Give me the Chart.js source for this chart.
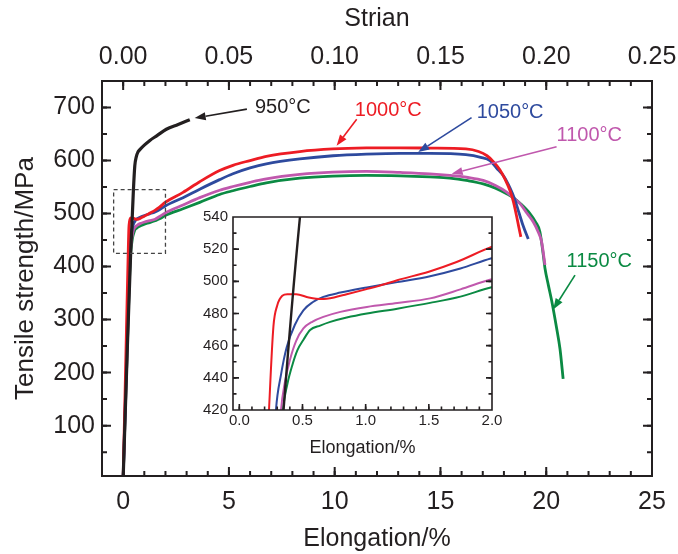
<!DOCTYPE html>
<html>
<head>
<meta charset="utf-8">
<script src="https://cdn.jsdelivr.net/npm/chart.js@4.4.1/dist/chart.umd.min.js"></script>
<style>
body{margin:0;background:#fff;}
#wrap{position:relative;width:678px;height:554px;}
#mainCanvas{position:absolute;left:0;top:0;}
#insetCanvas{position:absolute;left:180px;top:195px;}
</style>
</head>
<body>
<div id="wrap">
<canvas id="mainCanvas" width="678" height="554"></canvas>
<canvas id="insetCanvas" width="330" height="270"></canvas>
</div>
<script>
//curves: elongation (%) and tensile strength (MPa)
var x950 = [0, 0.2, 0.35, 0.48, 0.55, 0.62, 0.7, 0.8, 1.0, 1.25, 1.6, 2.04, 2.6, 3.15];
var y950 = [0, 250, 420, 540, 590, 607, 616, 621, 629, 637.5, 647, 659, 668, 677];

var x1000 = [0, 0.12, 0.235, 0.27, 0.3, 0.34, 0.38, 0.45, 0.55, 0.65, 0.75, 0.85, 1.0, 1.1, 1.25, 1.5, 1.72, 2.0, 2.83, 3.62, 4.56, 5.19, 6.0, 6.77, 8.35, 9.92, 11.5, 13.1, 14.5, 16.2, 16.8, 17.2, 17.5, 17.8, 18.05, 18.3, 18.45, 18.6, 18.7, 18.8];
var y1000 = [0, 215, 420, 472, 485, 491, 492, 492, 490, 489, 490, 492, 495, 497, 500.7, 506, 512, 521.5, 540, 560, 581, 591, 600, 608, 617, 621.8, 623.7, 624, 623.5, 621.8, 617, 609, 598, 583, 565, 542, 522, 495, 475, 456];

var x1050 = [0, 0.15, 0.29, 0.33, 0.375, 0.44, 0.507, 0.58, 0.665, 0.8, 1.01, 1.25, 1.51, 1.75, 1.99, 2.83, 3.62, 4.56, 5.19, 6.0, 6.77, 8.35, 9.92, 11.5, 13.1, 14.5, 16.2, 16.9, 17.34, 17.65, 18.0, 18.28, 18.5, 18.7, 18.9, 19.15];
var y1050 = [0, 215, 420, 442, 459, 473, 482, 487, 490.3, 493, 496.2, 499.5, 503.2, 508, 514.2, 530, 546, 564, 575, 586, 593.7, 603, 609, 612, 613.5, 613.5, 611, 606, 600, 586, 570, 549, 528, 503, 478, 452];

var x1100 = [0, 0.17, 0.33, 0.36, 0.4, 0.45, 0.507, 0.58, 0.665, 0.8, 1.01, 1.25, 1.51, 1.75, 1.99, 2.83, 3.62, 4.56, 5.19, 6.0, 6.77, 8.35, 9.92, 11.5, 13.1, 14.5, 15.44, 16.3, 17.02, 17.6, 18.13, 18.5, 18.76, 19.1, 19.39, 19.6, 19.78, 19.94];
var y1100 = [0, 215, 420, 437, 451, 463, 470.7, 475, 477.9, 481, 484.1, 486.5, 489.4, 495, 501.1, 516, 530, 544, 551, 559, 565.5, 573.7, 578, 579.4, 577.5, 575, 572, 568, 562.5, 553, 540.6, 528, 518.6, 500, 484, 467, 447, 403];

var x1150 = [0, 0.17, 0.345, 0.38, 0.42, 0.46, 0.51, 0.56, 0.64, 0.72, 0.85, 1.01, 1.25, 1.51, 1.75, 1.99, 2.83, 3.62, 4.56, 5.19, 6.0, 6.77, 8.35, 9.92, 11.5, 13.1, 14.5, 15.44, 16.3, 17.02, 17.6, 18.13, 18.44, 18.8, 19.23, 19.5, 19.7, 19.86, 19.94, 20.1, 20.26, 20.49, 20.65, 20.8];
var y1150 = [0, 215, 420, 436, 448, 457.2, 464, 469.7, 472.5, 474.8, 477.5, 480, 483, 486.6, 490.5, 496.2, 509, 521, 536, 543, 551, 558, 566.8, 570.6, 571.9, 571, 569, 567, 562, 556, 548, 537.4, 530, 518, 500, 484, 465.6, 422, 397, 365, 335, 284, 245, 188];

var seriesNames = ["950°C", "1000°C", "1050°C", "1100°C", "1150°C"];
var seriesColors = ["#231f20", "#ed1c24", "#2e4a9e", "#c058ad", "#0b8a43"];

//tick labels
var elongTicks = [0, 5, 10, 15, 20, 25];
var strainTicks = [0.00, 0.05, 0.10, 0.15, 0.20, 0.25];
var stressTicks = [100, 200, 300, 400, 500, 600, 700];
var insetElongTicks = [0.0, 0.5, 1.0, 1.5, 2.0];
var insetStressTicks = [420, 440, 460, 480, 500, 520, 540];

//callouts (label position and arrow, in data units)
var calloutX = [6.23, 10.95, 16.71, 20.49, 20.96];
var calloutY = [700, 694, 690, 647, 409];
var arrowFromX = [5.85, 11.04, 16.47, 20.49, 21.36];
var arrowFromY = [697, 678, 681, 626, 384];
var arrowToX = [3.38, 10.09, 13.95, 15.53, 20.33];
var arrowToY = [680, 628, 616, 575, 319];

//dashed box marking the zoomed region
var zoomBoxX = [-0.45, 2.0];
var zoomBoxY = [425, 545];

var fontFamily = "'Liberation Sans', Arial, sans-serif";
var textColor = "#231f20";

function toPoints(xs, ys){
    var pts = [];
    for(var i = 0; i < xs.length; i++){
        pts.push({x: xs[i], y: ys[i]});
    }
    return pts;
}

function stepList(from, to, step){
    var out = [];
    var n = Math.round((to - from) / step);
    for(var i = 0; i <= n; i++){
        out.push(Math.round((from + i * step) * 1000) / 1000);
    }
    return out;
}

function buildDatasets(width){
    var xs = [x950, x1000, x1050, x1100, x1150];
    var ys = [y950, y1000, y1050, y1100, y1150];
    var sets = [];
    for(var i = 0; i < xs.length; i++){
        sets.push({
            label: seriesNames[i],
            data: toPoints(xs[i], ys[i]),
            showLine: true,
            borderColor: seriesColors[i],
            borderWidth: (i == 0) ? width + 0.4 : width,
            pointRadius: 0,
            cubicInterpolationMode: "monotone",
            fill: false
        });
    }
    return sets;
}

//frame + inward ticks
var frameTicksPlugin = {
    id: "frameTicks",
    afterDraw: function(chart, args, opts){
        var ctx = chart.ctx;
        var area = chart.chartArea;
        ctx.save();
        ctx.strokeStyle = textColor;
        ctx.lineWidth = opts.lineWidth;
        ctx.beginPath();
        ctx.rect(area.left, area.top, area.right - area.left, area.bottom - area.top);
        ctx.stroke();
        var sides = ["bottom", "top", "left", "right"];
        for(var s = 0; s < sides.length; s++){
            var side = opts[sides[s]];
            if(!side) continue;
            var scale = chart.scales[side.scale];
            var groups = [[side.minor, opts.minorLen], [side.major, opts.majorLen]];
            for(var g = 0; g < groups.length; g++){
                var vals = groups[g][0];
                var len = groups[g][1];
                ctx.beginPath();
                for(var k = 0; k < vals.length; k++){
                    var p = scale.getPixelForValue(vals[k]);
                    if(sides[s] == "bottom"){
                        if(p < area.left + 1 || p > area.right - 1) continue;
                        ctx.moveTo(p, area.bottom); ctx.lineTo(p, area.bottom - len);
                    } else if(sides[s] == "top"){
                        if(p < area.left + 1 || p > area.right - 1) continue;
                        ctx.moveTo(p, area.top); ctx.lineTo(p, area.top + len);
                    } else if(sides[s] == "left"){
                        if(p < area.top + 1 || p > area.bottom - 1) continue;
                        ctx.moveTo(area.left, p); ctx.lineTo(area.left + len, p);
                    } else {
                        if(p < area.top + 1 || p > area.bottom - 1) continue;
                        ctx.moveTo(area.right, p); ctx.lineTo(area.right - len, p);
                    }
                }
                ctx.stroke();
            }
        }
        ctx.restore();
    }
};

function drawArrow(ctx, x1, y1, x2, y2, color){
    var ang = Math.atan2(y2 - y1, x2 - x1);
    var headLen = 11;
    var headHalf = 4;
    var bx = x2 - headLen * Math.cos(ang);
    var by = y2 - headLen * Math.sin(ang);
    ctx.strokeStyle = color;
    ctx.fillStyle = color;
    ctx.lineWidth = 1.6;
    ctx.beginPath();
    ctx.moveTo(x1, y1);
    ctx.lineTo(bx, by);
    ctx.stroke();
    ctx.beginPath();
    ctx.moveTo(x2, y2);
    ctx.lineTo(bx + headHalf * Math.sin(ang), by - headHalf * Math.cos(ang));
    ctx.lineTo(bx - headHalf * Math.sin(ang), by + headHalf * Math.cos(ang));
    ctx.closePath();
    ctx.fill();
}

var calloutPlugin = {
    id: "callouts",
    afterDatasetsDraw: function(chart){
        var ctx = chart.ctx;
        var xs = chart.scales.x;
        var ys = chart.scales.y;
        ctx.save();
        //dashed zoom box
        ctx.strokeStyle = "#444";
        ctx.lineWidth = 1.3;
        ctx.setLineDash([4, 3]);
        var bx1 = xs.getPixelForValue(zoomBoxX[0]);
        var bx2 = xs.getPixelForValue(zoomBoxX[1]);
        var by1 = ys.getPixelForValue(zoomBoxY[1]);
        var by2 = ys.getPixelForValue(zoomBoxY[0]);
        ctx.strokeRect(bx1, by1, bx2 - bx1, by2 - by1);
        ctx.setLineDash([]);
        //labels and arrows
        ctx.font = "20px " + fontFamily;
        ctx.textBaseline = "middle";
        ctx.textAlign = "left";
        for(var i = 0; i < seriesNames.length; i++){
            var col = (i == 0) ? textColor : seriesColors[i];
            ctx.fillStyle = col;
            ctx.fillText(seriesNames[i], xs.getPixelForValue(calloutX[i]), ys.getPixelForValue(calloutY[i]));
            drawArrow(ctx,
                xs.getPixelForValue(arrowFromX[i]), ys.getPixelForValue(arrowFromY[i]),
                xs.getPixelForValue(arrowToX[i]), ys.getPixelForValue(arrowToY[i]), col);
        }
        ctx.restore();
    }
};

function tickFont(size){
    return {family: fontFamily, size: size};
}

var noGrid = {display: false, drawTicks: false};

//keep long edge labels from shrinking the plot box
function fixHeight(h){
    return function(s){
        s.height = h;
        s.paddingLeft = 0;
        s.paddingRight = 0;
    };
}

var mainChart = new Chart(document.getElementById("mainCanvas"), {
    type: "scatter",
    data: {datasets: buildDatasets(2.8)},
    options: {
        responsive: false,
        animation: false,
        devicePixelRatio: 1,
        layout: {padding: {right: 26, left: 0, top: 0, bottom: 0}},
        plugins: {
            legend: {display: false},
            tooltip: {enabled: false},
            frameTicks: {
                lineWidth: 2, majorLen: 9, minorLen: 5,
                bottom: {scale: "x", major: elongTicks, minor: stepList(-1, 25, 1)},
                top: {scale: "x2", major: strainTicks, minor: stepList(-0.01, 0.25, 0.01)},
                left: {scale: "y", major: stressTicks, minor: stepList(50, 750, 50)},
                right: {scale: "y", major: stressTicks, minor: stepList(50, 750, 50)}
            }
        },
        scales: {
            x: {
                type: "linear", position: "bottom", min: -1, max: 25,
                grid: noGrid, border: {display: false},
                afterBuildTicks: function(s){ s.ticks = elongTicks.map(function(v){ return {value: v}; }); },
                afterFit: fixHeight(78),
                ticks: {autoSkip: false, maxRotation: 0, font: tickFont(25), color: textColor, padding: 11},
                title: {display: true, text: "Elongation/%", font: tickFont(25), color: textColor, padding: {top: 0, bottom: 0}}
            },
            x2: {
                type: "linear", position: "top", min: -0.01, max: 0.25,
                grid: noGrid, border: {display: false},
                afterBuildTicks: function(s){ s.ticks = strainTicks.map(function(v){ return {value: v}; }); },
                afterFit: fixHeight(81),
                ticks: {autoSkip: false, maxRotation: 0, font: tickFont(25), color: textColor, padding: 9,
                    callback: function(v){ return Number(v).toFixed(2); }},
                title: {display: true, text: "Strian", font: tickFont(25), color: textColor, padding: {top: 4, bottom: 0}}
            },
            y: {
                type: "linear", position: "left", min: 5, max: 750,
                grid: noGrid, border: {display: false},
                afterBuildTicks: function(s){ s.ticks = stressTicks.map(function(v){ return {value: v}; }); },
                afterFit: function(s){ s.width = 102; },
                ticks: {autoSkip: false, font: tickFont(25), color: textColor, padding: 7},
                title: {display: true, text: "Tensile strength/MPa", font: tickFont(26), color: textColor, padding: {top: 10, bottom: 0}}
            }
        }
    },
    plugins: [frameTicksPlugin, calloutPlugin]
});

var insetChart = new Chart(document.getElementById("insetCanvas"), {
    type: "scatter",
    data: {datasets: buildDatasets(2)},
    options: {
        responsive: false,
        animation: false,
        devicePixelRatio: 1,
        layout: {padding: {right: 18, left: 0, top: 22, bottom: 0}},
        plugins: {
            legend: {display: false},
            tooltip: {enabled: false},
            frameTicks: {
                lineWidth: 1.6, majorLen: 6, minorLen: 3.5,
                bottom: {scale: "x", major: insetElongTicks, minor: stepList(0, 2, 0.1)},
                left: {scale: "y", major: insetStressTicks, minor: stepList(420, 540, 10)},
                right: {scale: "y", major: insetStressTicks, minor: stepList(420, 540, 10)}
            }
        },
        scales: {
            x: {
                type: "linear", position: "bottom", min: -0.05, max: 2.0,
                grid: noGrid, border: {display: false},
                afterBuildTicks: function(s){ s.ticks = insetElongTicks.map(function(v){ return {value: v}; }); },
                afterFit: fixHeight(55),
                ticks: {autoSkip: false, maxRotation: 0, font: tickFont(15), color: textColor, padding: 2,
                    callback: function(v){ return Number(v).toFixed(1); }},
                title: {display: true, text: "Elongation/%", font: tickFont(18), color: textColor, padding: {top: 0, bottom: 6}}
            },
            y: {
                type: "linear", position: "left", min: 420, max: 540,
                grid: noGrid, border: {display: false},
                afterBuildTicks: function(s){ s.ticks = insetStressTicks.map(function(v){ return {value: v}; }); },
                afterFit: function(s){ s.width = 53; },
                ticks: {autoSkip: false, font: tickFont(15), color: textColor, padding: 5}
            }
        }
    },
    plugins: [frameTicksPlugin]
});
</script>
</body>
</html>
